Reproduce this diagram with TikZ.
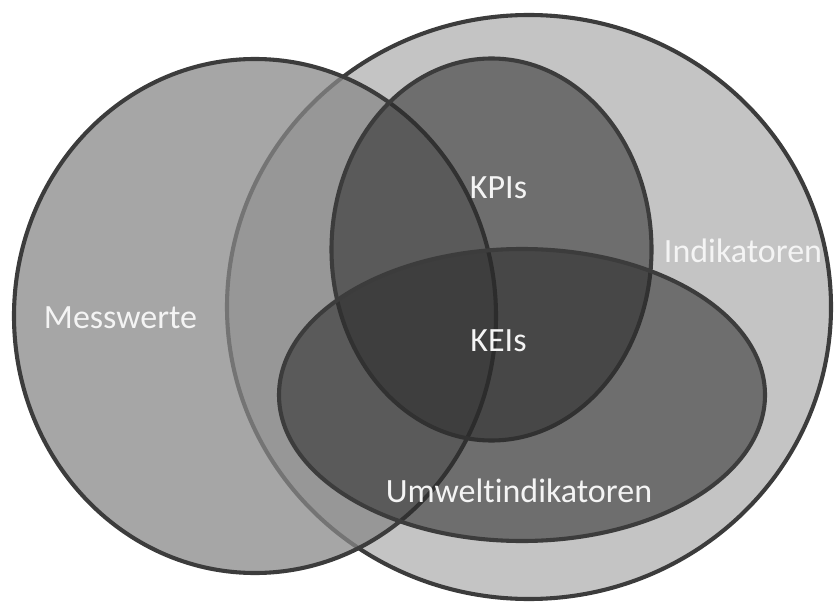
\documentclass[tikz,border=0pt]{standalone}
\usepackage{fontspec}
\setmainfont[Ligatures={NoCommon,NoRequired,NoContextual}]{Carlito}
\usetikzlibrary{shapes.geometric}

\definecolor{rimgray}{RGB}{60,60,60}
\definecolor{indfill}{RGB}{196,196,196}
\definecolor{messfill}{RGB}{136,136,136}
\definecolor{corefill}{RGB}{40,40,40}
\definecolor{labelwhite}{RGB}{244,244,244}

% keep t and i as two separate glyphs
\newcommand{\nolig}{\kern0pt\relax}

\tikzset{
  setshape/.style={ellipse, inner sep=0pt, draw=rimgray, line width=4.1pt},
  setlabel/.style={anchor=base, inner sep=0pt, text=labelwhite,
    font=\fontsize{34bp}{40bp}\selectfont}
}

\begin{document}
\begin{tikzpicture}[x=1bp, y=-1bp]
  \useasboundingbox (0,0) rectangle (834,602);

  % the four sets, drawn from the back to the front
  \node[setshape, fill=indfill, minimum width=604bp, minimum height=584bp]
    (indik) at (529,307) {};
  \node[setshape, fill=messfill, fill opacity=0.75,
    minimum width=482bp, minimum height=514bp]
    (mess) at (255,316) {};
  \node[setshape, fill=corefill, fill opacity=0.55,
    minimum width=320bp, minimum height=382bp]
    (kpi) at (491.5,249.5) {};
  \node[setshape, fill=corefill, fill opacity=0.55,
    minimum width=486bp, minimum height=292bp]
    (umwelt) at (522,395) {};

  % set names
  \node[setlabel] (lmess)   at (120.5,328) {Messwerte};
  \node[setlabel] (lkpi)    at (498.5,199) {KPIs};
  \node[setlabel] (lkei)    at (498.5,351) {KEIs};
  \node[setlabel] (lindik)  at (743,262)   {Indikatoren};
  \node[setlabel] (lumwelt) at (519,502)   {Umwelt\nolig indikatoren};
\end{tikzpicture}
\end{document}
